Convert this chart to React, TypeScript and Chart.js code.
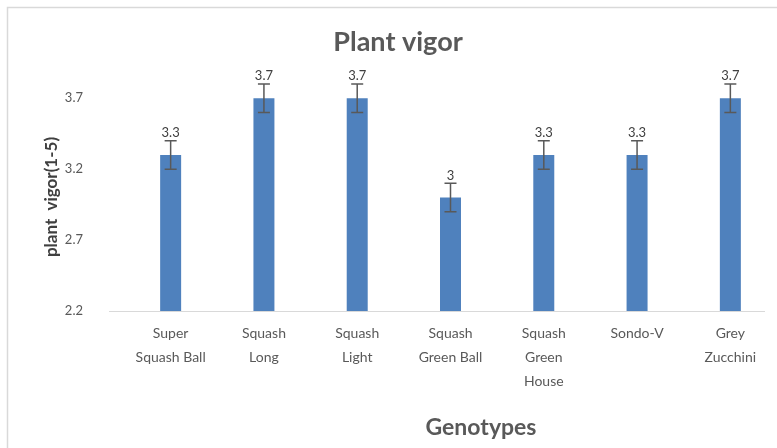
import React, { useEffect, useRef } from "react";
import { Chart, registerables } from "chart.js";

Chart.register(...registerables);

const categories: string[][] = [
  ["Super", "Squash Ball"],
  ["Squash", "Long"],
  ["Squash", "Light"],
  ["Squash", "Green Ball"],
  ["Squash", "Green", "House"],
  ["Sondo-V"],
  ["Grey", "Zucchini"],
];
const vigor: number[] = [3.3, 3.7, 3.7, 3.0, 3.3, 3.3, 3.7];
const vigorError: number[] = [0.1, 0.1, 0.1, 0.1, 0.1, 0.1, 0.1];
const yTicks: number[] = [2.2, 2.7, 3.2, 3.7];

const FONT = "Lato, 'Open Sans', sans-serif";
const TEXT = "#595959";

const decorPlugin = {
  id: "decor",
  beforeDraw(chart: any) {
    const ctx = chart.ctx;
    ctx.save();
    ctx.strokeStyle = "#d9d9d9";
    ctx.lineWidth = 1.5;
    ctx.strokeRect(7.5, 7.5, 820, 520);
    ctx.restore();
  },
  afterDatasetsDraw(chart: any) {
    const ctx = chart.ctx;
    const y = chart.scales.y;
    const area = chart.chartArea;
    ctx.save();
    // category axis line
    ctx.strokeStyle = "#d9d9d9";
    ctx.lineWidth = 1;
    ctx.beginPath();
    ctx.moveTo(109, Math.round(area.bottom) + 0.5);
    ctx.lineTo(765, Math.round(area.bottom) + 0.5);
    ctx.stroke();
    // error bars + labels
    const meta = chart.getDatasetMeta(0);
    meta.data.forEach((bar: any, i: number) => {
      const v = vigor[i];
      const e = vigorError[i];
      const cx = bar.x;
      const top = y.getPixelForValue(v + e);
      const bot = y.getPixelForValue(v - e);
      ctx.strokeStyle = "#595959";
      ctx.lineWidth = 1.5;
      ctx.beginPath();
      ctx.moveTo(cx, top);
      ctx.lineTo(cx, bot);
      ctx.moveTo(cx - 6, top);
      ctx.lineTo(cx + 6, top);
      ctx.moveTo(cx - 6, bot);
      ctx.lineTo(cx + 6, bot);
      ctx.stroke();
      ctx.fillStyle = "#404040";
      ctx.font = `13px ${FONT}`;
      ctx.textAlign = "center";
      ctx.textBaseline = "middle";
      ctx.fillText(String(v), cx, top - 8);
    });
    // axis titles
    ctx.fillStyle = TEXT;
    ctx.font = `bold 23px ${FONT}`;
    ctx.textAlign = "center";
    ctx.textBaseline = "middle";
    ctx.fillText("Genotypes", 481, 428);
    ctx.save();
    ctx.translate(52, 197);
    ctx.rotate(-Math.PI / 2);
    ctx.fillStyle = "#404040";
    ctx.font = `bold 17px ${FONT}`;
    ctx.fillText("plant  vigor(1-5)", 0, 0);
    ctx.restore();
    ctx.restore();
  },
};

export default function App() {
  const ref = useRef<HTMLCanvasElement | null>(null);
  useEffect(() => {
    if (!ref.current) return;
    const chart = new Chart(ref.current, {
      type: "bar",
      data: {
        labels: categories,
        datasets: [
          {
            data: vigor,
            backgroundColor: "#4F81BD",
            borderWidth: 0,
            barPercentage: 1,
            categoryPercentage: 0.225,
          },
        ],
      },
      options: {
        responsive: false,
        animation: false,
        layout: { padding: { left: 19, right: 0, top: 0, bottom: 0 } },
        plugins: {
          legend: { display: false },
          tooltip: { enabled: false },
          title: {
            display: true,
            text: "Plant vigor",
            color: TEXT,
            font: { family: FONT, size: 27, weight: "bold", lineHeight: 1.2 },
            padding: { top: 25.8, bottom: 25.8 },
          },
        },
        scales: {
          x: {
            grid: { display: false },
            border: { display: false },
            ticks: {
              color: TEXT,
              font: { family: FONT, size: 14, lineHeight: 1.7 },
              maxRotation: 0,
              autoSkip: false,
              padding: 3,
            },
            afterFit: (s: any) => {
              s.height = 137;
            },
          },
          y: {
            min: 2.2,
            max: 3.8,
            grid: { display: false },
            border: { display: false },
            afterBuildTicks: (s: any) => {
              s.ticks = yTicks.map((v) => ({ value: v }));
            },
            ticks: {
              color: TEXT,
              font: { family: FONT, size: 13 },
              padding: 33,
              callback: (v: any) => String(v),
            },
            afterFit: (s: any) => {
              s.width = 105;
            },
          },
        },
      },
      plugins: [decorPlugin],
    });
    return () => chart.destroy();
  }, []);
  return (
    <div style={{ position: "fixed", left: 0, top: 0, width: 777, height: 448, background: "#fff" }}>
      <canvas ref={ref} width={777} height={448} style={{ width: 777, height: 448 }} />
    </div>
  );
}
